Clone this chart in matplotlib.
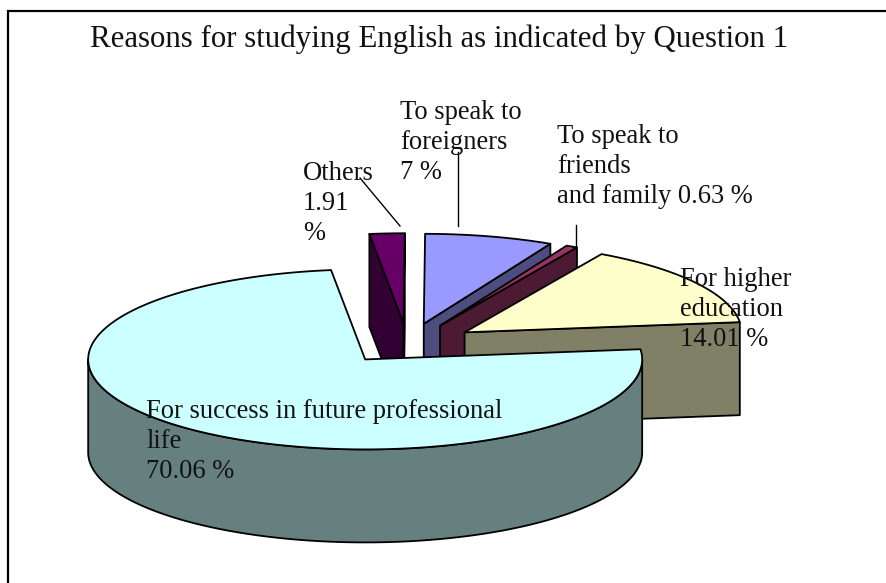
import numpy as np
import matplotlib
matplotlib.use("Agg")
import matplotlib.pyplot as plt
from matplotlib.patches import Polygon

plt.rcParams['font.family'] = ['Liberation Serif', 'DejaVu Serif']

title = "Reasons for studying English as indicated by Question 1"
# counter-clockwise from the right hand edge of the big slice
names = ["For higher\neducation\n14.01 %", "To speak to\nfriends\nand family 0.63 %",
         "To speak to\nforeigners\n7 %", "Others\n1.91\n%",
         "For success in future professional\nlife\n70.06 %"]
values = [14.01, 0.63, 7, 1.91, 70.06]
top_colors = ["#FFFFCC", "#993366", "#9999FF", "#660066", "#CCFFFF"]
side_colors = ["#808066", "#4D1A33", "#4D4D80", "#330033", "#668080"]
label_pos = [(680, 267), (557, 124), (400, 100), (303, 161), (146, 399)]

cx, cy = 407.5, 343.5
rx, ry = 277, 90
depth = 93
explode_x, explode_y = 0.247, 0.225
start = 6.5

fig = plt.figure(figsize=(8.86, 5.83), dpi=100)
ax = fig.add_axes([0, 0, 1, 1])
ax.set_xlim(0, 886)
ax.set_ylim(583, 0)
ax.axis("off")


def rim(x0, y0, angles):
    return np.column_stack([x0 + rx * np.cos(angles), y0 - ry * np.sin(angles)])


def draw_slice(a1, a2, top, side, z):
    mid = (a1 + a2) / 2
    x0 = cx + explode_x * rx * np.cos(mid)
    y0 = cy - explode_y * ry * np.sin(mid)
    kw = dict(edgecolor="black", linewidth=1.3, joinstyle="round")
    ends = rim(x0, y0, np.array([a1, a2]))
    # the cut faces that look towards the viewer
    for a, p in ((a1, ends[0]), (a2, ends[1])):
        if (a == a1 and np.cos(a) > 0) or (a == a2 and np.cos(a) < 0):
            face = [(x0, y0), p, (p[0], p[1] + depth), (x0, y0 + depth)]
            ax.add_patch(Polygon(face, closed=True, facecolor=side, zorder=z, **kw))
    # outer wall, front half only
    arc = np.linspace(a1, a2, 400)
    arc = arc[np.sin(arc) < 0]
    if len(arc) > 1:
        upper = rim(x0, y0, arc)
        lower = upper[::-1] + [0, depth]
        ax.add_patch(Polygon(np.vstack([upper, lower]), closed=True, facecolor=side, zorder=z, **kw))
    pts = rim(x0, y0, np.linspace(a1, a2, 400))
    ax.add_patch(Polygon(np.vstack([[x0, y0], pts]), closed=True, facecolor=top, zorder=z + 0.5, **kw))


sweeps = np.radians(np.array(values) / sum(values) * 360)
edges = np.radians(start) + np.concatenate([[0], np.cumsum(sweeps)])
# back to front, so the big slice goes last
for z, i in enumerate([3, 2, 1, 0, 4]):
    draw_slice(edges[i], edges[i + 1], top_colors[i], side_colors[i], z + 1)

# leader lines
ax.plot([360, 400], [178, 226], color="black", lw=1, zorder=20)
ax.plot([458, 458], [152, 226], color="black", lw=1, zorder=20)
ax.plot([576, 576], [225, 248], color="black", lw=1, zorder=20)

for name, (x, y) in zip(names, label_pos):
    ax.text(x, y, name, fontsize=19.1, va="top", ha="left", linespacing=1.26, color="#111111", zorder=30)

ax.text(439, 39, title, fontsize=22.2, ha="center", va="center", color="#111111", zorder=30)

# outer frame, only top and left fall inside the picture
ax.plot([8.5, 8.5, 886], [583, 10.5, 10.5], color="black", lw=1.6, zorder=40, solid_joinstyle="miter")

fig.savefig("out.png", dpi=100)
